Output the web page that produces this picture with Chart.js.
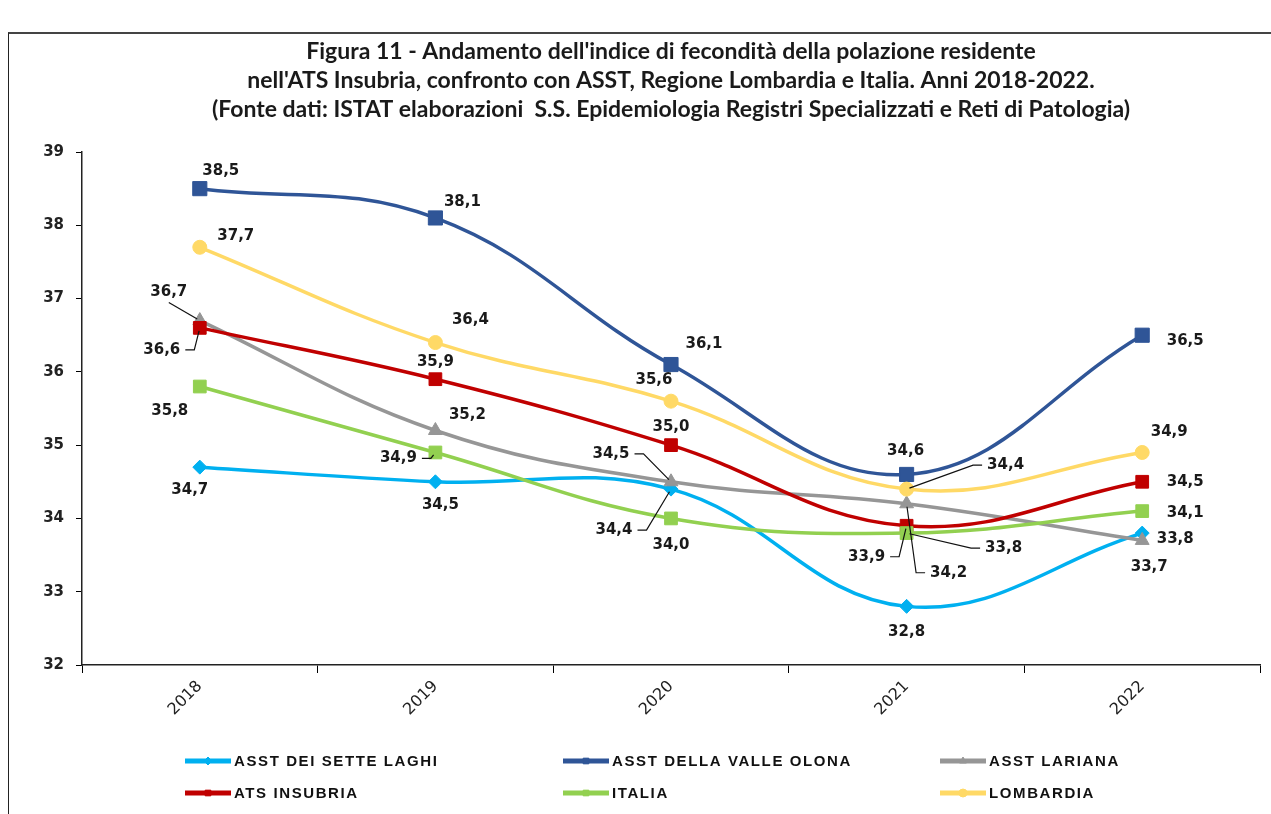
<!DOCTYPE html>
<html>
<head>
<meta charset="utf-8">
<title>Figura 11 - Indice di fecondità</title>
<script src="https://cdn.jsdelivr.net/npm/chart.js@4.4.1/dist/chart.umd.min.js"></script>
<style>
  html, body { margin: 0; padding: 0; background: #fff; }
  #wrap { position: relative; width: 1271px; height: 814px; overflow: hidden; }
  #frame { position: absolute; left: 8px; top: 32px; width: 1300px; height: 900px;
           border-top: 2px solid #444; border-left: 1.5px solid #222; pointer-events: none; }
  canvas { position: absolute; left: 0; top: 0; }
</style>
</head>
<body>
<div id="wrap">
  <canvas id="fecondita" width="1271" height="814"></canvas>
  <div id="frame"></div>
</div>
<script>
const years = ['2018', '2019', '2020', '2021', '2022'];
const setteLaghi  = [34.7, 34.5, 34.4, 32.8, 33.8];
const valleOlona  = [38.5, 38.1, 36.1, 34.6, 36.5];
const lariana     = [36.7, 35.2, 34.5, 34.2, 33.7];
const atsInsubria = [36.6, 35.9, 35.0, 33.9, 34.5];
const italia      = [35.8, 34.9, 34.0, 33.8, 34.1];
const lombardia   = [37.7, 36.4, 35.6, 34.4, 34.9];
const yMin = 32, yMax = 39, yStep = 1;

const titleLines = [
  "Figura 11 - Andamento dell'indice di fecondità della polazione residente",
  "nell'ATS Insubria, confronto con ASST, Regione Lombardia e Italia. Anni 2018-2022.",
  "(Fonte dati: ISTAT elaborazioni  S.S. Epidemiologia Registri Specializzati e Reti di Patologia)"
];

// label offsets from each point: [dx, dy, leader]  (1 = elbow leader, 2 = straight leader)
const labelPos = [
  [[-10, 23], [5, 23], [-57, 41, 1], [0, 26], [33, 6]],
  [[21, -18], [27, -16], [33, -20], [-1, -23], [43, 6]],
  [[-31, -28, 2], [32, -15], [-60, -28, 1], [42, 69, 1], [7, 27]],
  [[-38, 22, 1], [0, -17], [0, -18], [-40, 31, 1], [43, 0]],
  [[-30, 25], [-37, 6, 1], [0, 27], [97, 15, 1], [43, 2]],
  [[36, -11], [35, -22], [-17, -21], [99, -24, 1], [27, -20]]
];

// title drawn centred over the plot, like the original
const chartTitle = {
  id: 'chartTitle',
  afterDraw(chart) {
    const ctx = chart.ctx;
    ctx.save();
    ctx.font = 'bold 23px Lato, "Liberation Sans", sans-serif';
    ctx.fillStyle = '#1a1a1a';
    ctx.textAlign = 'center';
    ctx.textBaseline = 'middle';
    const cx = (chart.chartArea.left + chart.chartArea.right) / 2;
    titleLines.forEach((t, i) => ctx.fillText(t, cx, 52 + i * 29));
    ctx.restore();
  }
};

const pointLabels = {
  id: 'pointLabels',
  afterDatasetsDraw(chart) {
    const ctx = chart.ctx;
    ctx.save();
    ctx.font = 'bold 15px "DejaVu Sans"';
    ctx.textAlign = 'center';
    ctx.textBaseline = 'middle';
    chart.data.datasets.forEach((ds, i) => {
      const meta = chart.getDatasetMeta(i);
      meta.data.forEach((pt, j) => {
        const p = labelPos[i][j];
        const tx = pt.x + p[0], ty = pt.y + p[1];
        const txt = ds.data[j].toFixed(1).replace('.', ',');
        if (p[2]) {
          const w = ctx.measureText(txt).width;
          ctx.beginPath();
          let sx, sy;
          if (p[2] === 2) {
            sx = tx; sy = ty + 10;
            ctx.moveTo(sx, sy);
          } else {
            const side = p[0] < 0 ? 1 : -1;
            sx = tx + side * (w / 2 + 5); sy = ty;
            ctx.moveTo(sx, sy);
            sx += side * 9;
            ctx.lineTo(sx, sy);
          }
          const ddx = pt.x - sx, ddy = pt.y - sy;
          const d = Math.hypot(ddx, ddy) || 1;
          ctx.lineTo(pt.x - ddx / d * 3, pt.y - ddy / d * 3);
          ctx.strokeStyle = '#111';
          ctx.lineWidth = 1.2;
          ctx.stroke();
        }
        ctx.fillStyle = '#1a1a1a';
        ctx.fillText(txt, tx, ty);
      });
    });
    ctx.restore();
  }
};

const legendCols = [185, 563, 940];
const legendRows = [761, 793];

const bottomLegend = {
  id: 'bottomLegend',
  afterDraw(chart) {
    const ctx = chart.ctx;
    ctx.save();
    chart.data.datasets.forEach((ds, i) => {
      const x = legendCols[i % 3], y = legendRows[Math.floor(i / 3)];
      ctx.beginPath();
      ctx.moveTo(x, y);
      ctx.lineTo(x + 46, y);
      ctx.strokeStyle = ds.borderColor;
      ctx.lineWidth = 5;
      ctx.stroke();
      ctx.fillStyle = ds.borderColor;
      ctx.strokeStyle = ds.borderColor;
      ctx.lineWidth = 1;
      Chart.helpers.drawPoint(ctx, { pointStyle: ds.pointStyle, radius: 4, rotation: 0, borderWidth: 1 }, x + 23, y);
      ctx.font = 'bold 15px "Liberation Sans", Arial, sans-serif';
      if ('letterSpacing' in ctx) ctx.letterSpacing = '1.6px';
      ctx.textAlign = 'left';
      ctx.textBaseline = 'middle';
      ctx.fillStyle = '#111';
      ctx.fillText(ds.label, x + 49, y + 1);
      if ('letterSpacing' in ctx) ctx.letterSpacing = '0px';
    });
    ctx.restore();
  }
};

function series(label, data, color, style, radius, order) {
  return {
    label: label,
    data: data,
    borderColor: color,
    backgroundColor: color,
    borderWidth: 3.5,
    pointStyle: style,
    pointRadius: radius,
    pointBorderWidth: 1,
    pointBackgroundColor: color,
    pointBorderColor: color,
    tension: 0.4,
    order: order
  };
}

Chart.defaults.font.family = '"DejaVu Sans", Verdana, sans-serif';

new Chart(document.getElementById('fecondita').getContext('2d'), {
  type: 'line',
  data: {
    labels: years,
    datasets: [
      series('ASST DEI SETTE LAGHI', setteLaghi, '#00B0F0', 'rectRot', 7, 6),
      series('ASST DELLA VALLE OLONA', valleOlona, '#2F5597', 'rect', 10, 5),
      series('ASST LARIANA', lariana, '#969696', 'triangle', 8, 4),
      series('ATS INSUBRIA', atsInsubria, '#C00000', 'rect', 9, 3),
      series('ITALIA', italia, '#92D050', 'rect', 9, 2),
      series('LOMBARDIA', lombardia, '#FFD966', 'circle', 7, 1)
    ]
  },
  options: {
    responsive: false,
    animation: false,
    events: [],
    layout: { padding: { left: 0, right: 5, top: 152, bottom: 0 } },
    plugins: {
      legend: { display: false },
      tooltip: { enabled: false },
      title: { display: false }
    },
    scales: {
      x: {
        offset: true,
        afterFit(s) { s.height = 149; },
        grid: { display: true, offset: true, drawOnChartArea: false, drawTicks: true, tickLength: 8, color: '#000' },
        border: { display: true, color: '#222', width: 1.5 },
        ticks: { minRotation: 45, maxRotation: 45, padding: 4, color: '#222', font: { size: 16 } }
      },
      y: {
        min: yMin,
        max: yMax,
        afterFit(s) { s.width = 82; },
        grid: { display: true, drawOnChartArea: false, drawTicks: true, tickLength: 6, color: '#000' },
        border: { display: true, color: '#222', width: 1.5 },
        ticks: { stepSize: yStep, padding: 12, color: '#222', font: { size: 15, weight: 'bold' } }
      }
    }
  },
  plugins: [pointLabels, bottomLegend, chartTitle]
});
</script>
</body>
</html>
